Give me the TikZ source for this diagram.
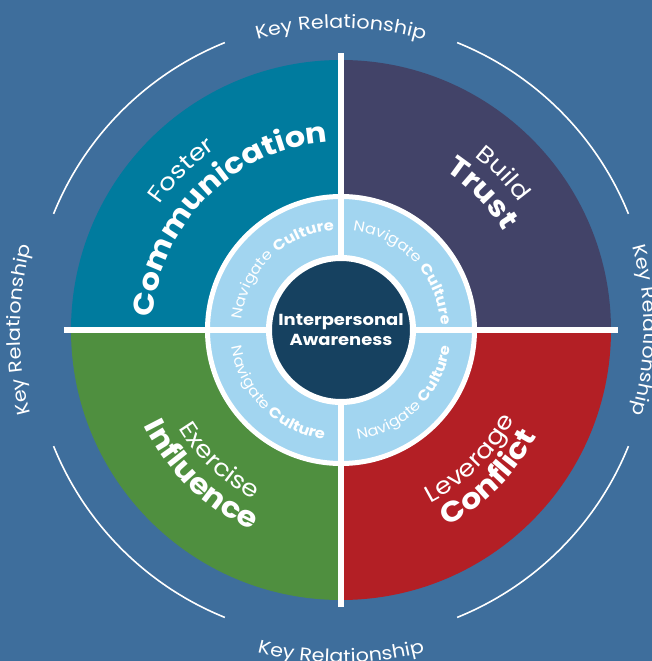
\documentclass[tikz,border=0pt]{standalone}
\usepackage{fontspec}
\setmainfont{Poppins}[FakeStretch=1.12]
\usetikzlibrary{decorations.text}
\definecolor{bgBlue}{HTML}{3E6E9C}
\definecolor{commTeal}{HTML}{007B9E}
\definecolor{trustPurple}{HTML}{424368}
\definecolor{influenceGreen}{HTML}{4F8F3F}
\definecolor{conflictRed}{HTML}{B31F25}
\definecolor{cultureBlue}{HTML}{A2D5F0}
\definecolor{coreNavy}{HTML}{164160}
\newcommand{\keyfont}{\fontsize{18.5}{20}\selectfont}
\newcommand{\actfont}{\fontsize{23.5}{26}\selectfont}
\newcommand{\themefont}{\fontsize{28.5}{31}\selectfont\bfseries}
\newcommand{\ringlight}{\fontsize{14.5}{16}\selectfont}
\newcommand{\ringbold}{\fontsize{14.5}{16}\selectfont\bfseries}
\newcommand{\corefont}{\fontsize{16}{20}\selectfont\bfseries}

\begin{document}
\begin{tikzpicture}[
        x=1pt, y=1pt,
        divider/.style={draw=white, line width=6pt},
        keyarc/.style={draw=white, line width=1.6pt},
        curved/.style={decorate, decoration={text along path, text align=center, text color=white, text={#1}}},
        ringdisc/.style={circle, fill=cultureBlue, draw=white, line width=5pt, minimum size=267pt, inner sep=0pt},
        corecircle/.style={circle, fill=coreNavy, draw=white, line width=6pt, minimum size=144pt, inner sep=0pt,
            text=white, align=center, font=\corefont}
    ]

    % Background
    \useasboundingbox (-341,-331) rectangle (311,330);
    \fill[bgBlue] (-341,-331) rectangle (311,330);

    % Quadrants
    \fill[commTeal] (0,0) -- (180:270pt) arc[start angle=180, end angle=90, radius=270pt] -- cycle;
    \fill[trustPurple] (0,0) -- (90:270pt) arc[start angle=90, end angle=0, radius=270pt] -- cycle;
    \fill[conflictRed] (0,0) -- (0:270pt) arc[start angle=0, end angle=-90, radius=270pt] -- cycle;
    \fill[influenceGreen] (0,0) -- (270:270pt) arc[start angle=270, end angle=180, radius=270pt] -- cycle;

    % Navigate culture ring
    \node[ringdisc] (ring) at (0,0) {};

    % Dividers
    \draw[divider] (-277,0) -- (277,0);
    \draw[divider] (0,-277) -- (0,277);

    % Centre
    \node[corecircle] (core) at (0,0) {Interpersonal\\Awareness};

    % Key relationship arcs
    \draw[keyarc] (22:310pt) arc[start angle=22, end angle=68, radius=310pt];
    \draw[keyarc] (112:310pt) arc[start angle=112, end angle=158, radius=310pt];
    \draw[keyarc] (202:310pt) arc[start angle=202, end angle=248, radius=310pt];
    \draw[keyarc] (292:310pt) arc[start angle=292, end angle=338, radius=310pt];

    % Key relationship labels
    \path[curved={|\keyfont|Key Relationship}] (135:302pt) arc[start angle=135, end angle=45, radius=302pt];
    \path[curved={|\keyfont|Key Relationship}] (225:321pt) arc[start angle=225, end angle=135, radius=321pt];
    \path[curved={|\keyfont|Key Relationship}] (45:303pt) arc[start angle=45, end angle=-45, radius=303pt];
    \path[curved={|\keyfont|Key Relationship}] (225:333pt) arc[start angle=225, end angle=315, radius=333pt];

    % Quadrant labels
    \path[curved={|\actfont|Foster}] (195:220pt) arc[start angle=195, end angle=75, radius=220pt];
    \path[curved={|\themefont|Communication}] (195:188pt) arc[start angle=195, end angle=75, radius=188pt];
    \path[curved={|\actfont|Build}] (104:219pt) arc[start angle=104, end angle=-16, radius=219pt];
    \path[curved={|\themefont|Trust}] (104:190pt) arc[start angle=104, end angle=-16, radius=190pt];
    \path[curved={|\actfont|Exercise}] (167:190pt) arc[start angle=167, end angle=287, radius=190pt];
    \path[curved={|\themefont|Influence}] (166:219pt) arc[start angle=166, end angle=286, radius=219pt];
    \path[curved={|\actfont|Leverage}] (255:195pt) arc[start angle=255, end angle=375, radius=195pt];
    \path[curved={|\themefont|Conflict}] (255:223pt) arc[start angle=255, end angle=375, radius=223pt];

    % Ring labels
    \path[curved={|\ringlight|Navigate |\ringbold|Culture}] (194:100pt) arc[start angle=194, end angle=74, radius=100pt];
    \path[curved={|\ringlight|Navigate |\ringbold|Culture}] (103:100pt) arc[start angle=103, end angle=-17, radius=100pt];
    \path[curved={|\ringlight|Navigate |\ringbold|Culture}] (165:111pt) arc[start angle=165, end angle=285, radius=111pt];
    \path[curved={|\ringlight|Navigate |\ringbold|Culture}] (255:111pt) arc[start angle=255, end angle=375, radius=111pt];

\end{tikzpicture}
\end{document}
